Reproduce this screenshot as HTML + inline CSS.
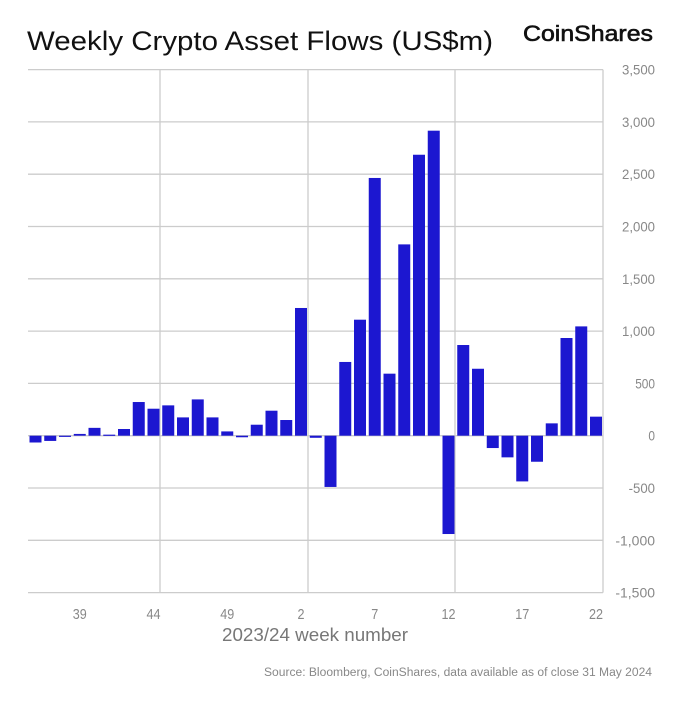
<!DOCTYPE html>
<html><head><meta charset="utf-8"><style>
body{margin:0;background:#fff;width:687px;height:707px;overflow:hidden}
svg{display:block}
text{font-family:"Liberation Sans",Arial,sans-serif}
</style></head><body>
<svg id="s" width="687" height="707" xmlns="http://www.w3.org/2000/svg">
<text x="27" y="50" font-size="26.5" fill="#111" textLength="466" lengthAdjust="spacingAndGlyphs">Weekly Crypto Asset Flows (US$m)</text>
<text x="523" y="41" font-size="22" fill="#111" stroke="#111" stroke-width="0.6" textLength="130" lengthAdjust="spacingAndGlyphs">CoinShares</text>
<text x="315" y="641" font-size="18" fill="#777" text-anchor="middle" textLength="186" lengthAdjust="spacingAndGlyphs">2023/24 week number</text>
<text x="652" y="676" font-size="11.5" fill="#888" text-anchor="end" textLength="388" lengthAdjust="spacingAndGlyphs">Source: Bloomberg, CoinShares, data available as of close 31 May 2024</text>
</svg>
<script>
var s=document.getElementById('s'),NS='http://www.w3.org/2000/svg';
function el(t,a,txt){var e=document.createElementNS(NS,t);for(var k in a)e.setAttribute(k,a[k]);if(txt)e.textContent=txt;s.appendChild(e);return e;}
var z=435.7,k=0.1046,L=28,R=603;
function Y(v){return z-v*k;}
for(var v=-1500;v<=3500;v+=500){var y=Y(v);el('line',{x1:L,x2:R,y1:y,y2:y,stroke:'#ccc','stroke-width':1.3});
var t=v.toLocaleString('en-US');
el('text',{x:655,y:y+5,'font-size':14,fill:'#888','text-anchor':'end',textLength:t.length*6.6,lengthAdjust:'spacingAndGlyphs'},t);}
[160,308,455,603].forEach(function(x){el('line',{x1:x,x2:x,y1:Y(3500),y2:Y(-1500),stroke:'#ccc','stroke-width':1.3});});
var d=[-65,-50,-5,17,75,10,64,322,258,290,175,347,175,41,-15,105,239,150,1221,-20,-490,705,1109,2464,593,1829,2686,2916,-940,867,640,-118,-207,-437,-249,118,934,1045,182];
d.forEach(function(v,i){var c=35.5+i*14.75,y1=Y(Math.max(v,0)),y2=Y(Math.min(v,0));
el('rect',{x:c-6,y:y1,width:12,height:Math.max(y2-y1,1.2),fill:'#1c17d0'});});
var labs=['39','44','49','2','7','12','17','22'];
labs.forEach(function(t,i){el('text',{x:35.5+(3+5*i)*14.75,y:619,'font-size':15,fill:'#888','text-anchor':'middle',textLength:t.length*7,lengthAdjust:'spacingAndGlyphs'},t);});
</script>
</body></html>
